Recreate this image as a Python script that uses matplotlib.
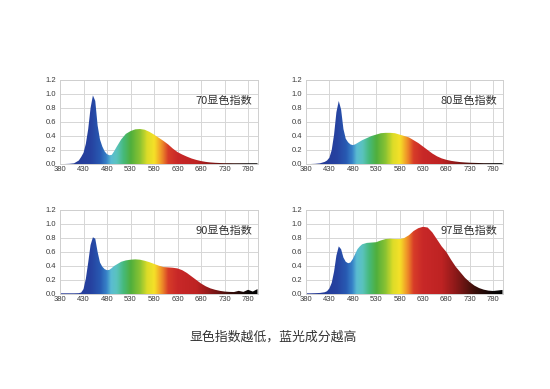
import numpy as np
import matplotlib
matplotlib.use('Agg')
import matplotlib.pyplot as plt
from matplotlib.colors import LinearSegmentedColormap
from matplotlib.patches import Polygon

# ---------------- data ----------------
wavelengths = [380, 390, 400, 410, 420,
               425, 430, 435, 440, 445, 450, 455, 460, 465, 470, 475, 480, 485, 490, 495, 500,
               510, 520, 530, 540, 550, 560, 570, 580, 590, 600, 610, 620, 630, 640, 650, 660,
               670, 680, 690, 700, 710, 720, 730, 740, 750, 760, 770, 780, 790, 800]

cri70 = [0.0, 0.0, 0.003, 0.01, 0.05,
         0.1, 0.16, 0.29, 0.5, 0.8, 0.98, 0.9, 0.55, 0.35, 0.25, 0.18, 0.14, 0.125, 0.13, 0.18, 0.24,
         0.35, 0.43, 0.47, 0.495, 0.5, 0.49, 0.46, 0.42, 0.375, 0.33, 0.28, 0.22, 0.17, 0.135, 0.105, 0.078,
         0.058, 0.042, 0.03, 0.022, 0.017, 0.014, 0.012, 0.012, 0.011, 0.011, 0.011, 0.011, 0.011, 0.011]

cri80 = [0.0, 0.0, 0.003, 0.01, 0.03,
         0.05, 0.09, 0.2, 0.42, 0.74, 0.9, 0.78, 0.5, 0.36, 0.31, 0.28, 0.27, 0.28, 0.3, 0.32, 0.34,
         0.37, 0.4, 0.42, 0.44, 0.445, 0.445, 0.44, 0.42, 0.4, 0.38, 0.34, 0.3, 0.25, 0.2, 0.15, 0.11,
         0.08, 0.06, 0.045, 0.035, 0.027, 0.022, 0.018, 0.016, 0.014, 0.012, 0.012, 0.012, 0.012, 0.012]

cri90 = [0.01, 0.01, 0.01, 0.01, 0.012,
         0.02, 0.07, 0.22, 0.45, 0.7, 0.81, 0.79, 0.6, 0.45, 0.39, 0.355, 0.34, 0.345, 0.37, 0.4, 0.42,
         0.46, 0.48, 0.49, 0.495, 0.49, 0.475, 0.455, 0.43, 0.405, 0.385, 0.38, 0.375, 0.365, 0.34, 0.3, 0.25,
         0.2, 0.15, 0.11, 0.08, 0.06, 0.045, 0.035, 0.03, 0.028, 0.045, 0.03, 0.06, 0.035, 0.07]

cri97 = [0.01, 0.01, 0.012, 0.015, 0.025,
         0.04, 0.08, 0.16, 0.32, 0.55, 0.68, 0.64, 0.52, 0.46, 0.44, 0.45, 0.5, 0.57, 0.64, 0.68, 0.71,
         0.73, 0.735, 0.74, 0.765, 0.785, 0.79, 0.785, 0.785, 0.8, 0.84, 0.9, 0.94, 0.96, 0.95, 0.88, 0.78,
         0.68, 0.6, 0.49, 0.39, 0.31, 0.23, 0.17, 0.12, 0.085, 0.062, 0.048, 0.043, 0.05, 0.058]

series = [cri70, cri80, cri90, cri97]
panel_labels = ['70显色指数', '80显色指数', '90显色指数', '97显色指数']
x_ticks = [380, 430, 480, 530, 580, 630, 680, 730, 780]
y_ticks = [0.0, 0.2, 0.4, 0.6, 0.8, 1.0, 1.2]
caption = '显色指数越低，蓝光成分越高'

# ---------------- style ----------------
plt.rcParams['font.family'] = ['Noto Sans CJK SC', 'DejaVu Sans']

stops = [(380, (36, 52, 145)), (445, (38, 66, 160)), (465, (40, 90, 178)),
         (478, (55, 130, 200)), (488, (90, 188, 210)), (500, (90, 195, 190)),
         (515, (70, 185, 120)), (530, (80, 175, 60)), (550, (140, 195, 50)),
         (565, (220, 220, 40)), (580, (245, 225, 40)), (595, (240, 150, 40)),
         (610, (215, 60, 40)), (630, (200, 40, 40)), (670, (190, 35, 35)),
         (700, (140, 25, 25)), (740, (60, 15, 10)), (780, (10, 5, 5)), (800, (0, 0, 0))]
cmap = LinearSegmentedColormap.from_list(
    'spec', [((w - 380) / 420.0, tuple(c / 255.0 for c in rgb)) for w, rgb in stops])

W, H = 550.0, 389.0
fig = plt.figure(figsize=(5.5, 3.89), dpi=100)
fig.patch.set_facecolor('white')

boxes = [(60, 80, 257.5, 164), (306, 80, 502.5, 164),
         (60, 210, 257.5, 294), (306, 210, 502.5, 294)]

for (x0, y0, x1, y1), vals, lab in zip(boxes, series, panel_labels):
    ax = fig.add_axes([x0 / W, 1 - y1 / H, (x1 - x0) / W, (y1 - y0) / H])
    grad = np.linspace(0, 1, 800).reshape(1, -1)
    im = ax.imshow(grad, extent=[380, 800, 0, 1.2], aspect='auto', cmap=cmap,
                   origin='lower', zorder=2, interpolation='bilinear')
    verts = [(wavelengths[0], 0)] + list(zip(wavelengths, vals)) + [(wavelengths[-1], 0)]
    poly = Polygon(verts, closed=True, facecolor='none', edgecolor='none',
                   transform=ax.transData)
    ax.add_patch(poly)
    im.set_clip_path(poly)

    ax.set_xlim(380, 800)
    ax.set_ylim(0, 1.2)
    ax.set_xticks(x_ticks)
    ax.set_yticks(y_ticks)
    ax.set_xticklabels([str(v) for v in x_ticks])
    ax.set_yticklabels([f'{v:.1f}' for v in y_ticks])
    ax.grid(True, color='#d6d6d6', lw=0.7)
    ax.set_axisbelow(True)
    ax.tick_params(length=0, labelsize=5.5, colors='#3a3a3a')
    ax.tick_params(axis='x', pad=1.5)
    ax.tick_params(axis='y', pad=3)
    for t in ax.get_xticklabels() + ax.get_yticklabels():
        t.set_fontfamily('Liberation Sans')
    for s in ax.spines.values():
        s.set_color('#cfcfcf')
        s.set_linewidth(0.7)
    ax.text(0.974, 0.756, lab, transform=ax.transAxes, ha='right', va='center',
            fontsize=8, color='#333333', zorder=5)

fig.text(0.497, 1 - 337.5 / H, caption, ha='center', va='center',
         fontsize=9.3, color='#333333')

fig.savefig('out.png', dpi=100, facecolor='white')
